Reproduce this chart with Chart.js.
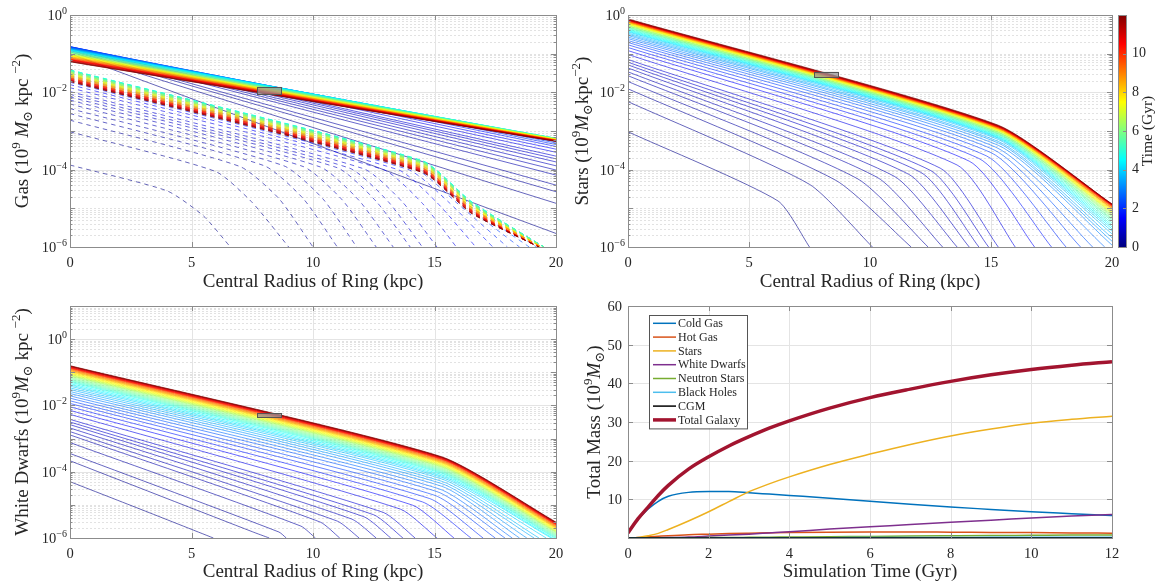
<!DOCTYPE html>
<html lang="en">
<head>
<meta charset="UTF-8">
<title>Ring profiles and total mass</title>
<script src="https://cdn.jsdelivr.net/npm/chart.js@4.4.1/dist/chart.umd.min.js"></script>
<style>
  body { margin: 0; background: #fff; }
  #figure { position: relative; width: 1158px; height: 587px; overflow: hidden; }
  #figure canvas { position: absolute; }
</style>
</head>
<body>
<div id="figure">
  <canvas id="gasChart" width="572" height="290" style="left:0;top:0"></canvas>
  <canvas id="starsChart" width="598" height="290" style="left:560px;top:0"></canvas>
  <canvas id="wdChart" width="572" height="297" style="left:0;top:290px"></canvas>
  <canvas id="massChart" width="598" height="297" style="left:560px;top:290px"></canvas>
</div>
<script>
// one profile per snapshot (Gyr), coloured by time
const timeSteps = [0.1, 0.2, 0.3, 0.4, 0.5, 0.6, 0.7, 0.8, 0.9, 1.0,
  1.25, 1.5, 1.75, 2.0, 2.25, 2.5, 2.75, 3.0, 3.25, 3.5, 3.75, 4.0, 4.25, 4.5, 4.75, 5.0,
  5.25, 5.5, 5.75, 6.0, 6.25, 6.5, 6.75, 7.0, 7.25, 7.5, 7.75, 8.0, 8.25, 8.5, 8.75, 9.0,
  9.25, 9.5, 9.75, 10.0, 10.25, 10.5, 10.75, 11.0, 11.25, 11.5, 11.75, 12.0];
const timeMax = 12;
const colorbarTicks = [0, 2, 4, 6, 8, 10];
const radiusTicks = [0, 5, 10, 15, 20];
const decadeLabels = [0, -2, -4, -6];

// gas, solid lines: log10 surface density at r = 0 and r = 20 kpc
const gasSolidCore = [-1.00, -0.95, -0.92, -0.90, -0.88, -0.87, -0.86, -0.85, -0.84, -0.84,
  -0.83, -0.82, -0.82, -0.82, -0.82, -0.83, -0.84, -0.85, -0.86, -0.87, -0.88, -0.89, -0.90, -0.91, -0.92, -0.94,
  -0.95, -0.96, -0.97, -0.99, -1.00, -1.01, -1.02, -1.03, -1.04, -1.05, -1.06, -1.07, -1.08, -1.09, -1.10, -1.11,
  -1.12, -1.13, -1.14, -1.15, -1.155, -1.16, -1.17, -1.18, -1.19, -1.20, -1.205, -1.21];
const gasSolidEdge = [-5.65, -4.87, -4.57, -4.40, -4.14, -4.01, -3.90, -3.80, -3.72, -3.65,
  -3.55, -3.47, -3.40, -3.35, -3.31, -3.28, -3.26, -3.24, -3.23, -3.22, -3.21, -3.20, -3.20, -3.19, -3.19, -3.19,
  -3.19, -3.19, -3.20, -3.20, -3.20, -3.21, -3.21, -3.21, -3.22, -3.22, -3.22, -3.23, -3.23, -3.23, -3.23, -3.24,
  -3.24, -3.24, -3.24, -3.25, -3.25, -3.25, -3.25, -3.26, -3.26, -3.26, -3.26, -3.27];

// gas, dashed lines: centre, knee, bend, and where each drops out at 1e-6
const gasDashCore = [-3.88, -3.02, -2.72, -2.55, -2.42, -2.30, -2.20, -2.12, -2.05, -1.98,
  -1.88, -1.80, -1.74, -1.68, -1.63, -1.58, -1.55, -1.52, -1.49, -1.47, -1.45, -1.44, -1.43, -1.42, -1.42, -1.42,
  -1.43, -1.44, -1.45, -1.46, -1.47, -1.48, -1.50, -1.51, -1.52, -1.53, -1.55, -1.56, -1.57, -1.58, -1.60, -1.61,
  -1.62, -1.63, -1.64, -1.65, -1.66, -1.67, -1.68, -1.69, -1.70, -1.71, -1.715, -1.72];
const gasDashKneeR = [4.0, 6.0, 7.0, 8.0, 8.8, 9.6, 10.3, 11.0, 11.5, 12.1,
  12.9, 13.5, 13.9, 14.2, 14.3, 14.4, 14.5, 14.5, 14.5, 14.5, 14.5, 14.5, 14.5, 14.5, 14.5, 14.5,
  14.5, 14.5, 14.5, 14.5, 14.5, 14.5, 14.5, 14.5, 14.5, 14.5, 14.5, 14.5, 14.5, 14.5, 14.5, 14.5,
  14.5, 14.5, 14.5, 14.5, 14.5, 14.5, 14.5, 14.5, 14.5, 14.5, 14.5, 14.5];
const gasDashKnee = [-4.55, -4.05, -3.92, -3.90, -3.90, -3.92, -3.93, -3.95, -3.96, -3.98,
  -4.00, -4.00, -3.99, -3.98, -3.95, -3.92, -3.90, -3.87, -3.84, -3.82, -3.80, -3.79, -3.78, -3.77, -3.77, -3.77,
  -3.78, -3.79, -3.80, -3.81, -3.82, -3.83, -3.85, -3.86, -3.87, -3.88, -3.90, -3.91, -3.92, -3.93, -3.95, -3.96,
  -3.97, -3.98, -3.99, -4.00, -4.01, -4.02, -4.03, -4.04, -4.05, -4.06, -4.07, -4.07];
const gasDashBendR = [5.5, 7.5, 8.6, 9.6, 10.4, 11.2, 11.9, 12.6, 13.1, 13.7,
  14.5, 15.1, 15.6, 15.9, 16.1, 16.3, 16.4, 16.5, 16.5, 16.5, 16.5, 16.5, 16.5, 16.5, 16.5, 16.5,
  16.5, 16.5, 16.5, 16.5, 16.5, 16.5, 16.5, 16.5, 16.5, 16.5, 16.5, 16.5, 16.5, 16.5, 16.5, 16.5,
  16.5, 16.5, 16.5, 16.5, 16.5, 16.5, 16.5, 16.5, 16.5, 16.5, 16.5, 16.5];
const gasDashBend = [-5.20, -4.85, -4.75, -4.75, -4.75, -4.78, -4.80, -4.82, -4.83, -4.85,
  -4.87, -4.85, -4.85, -4.85, -4.85, -4.87, -4.85, -4.90, -4.89, -4.87, -4.85, -4.84, -4.83, -4.82, -4.82, -4.82,
  -4.83, -4.84, -4.85, -4.86, -4.87, -4.88, -4.90, -4.91, -4.92, -4.93, -4.95, -4.96, -4.97, -4.98, -5.00, -5.01,
  -5.02, -5.03, -5.04, -5.05, -5.06, -5.07, -5.08, -5.09, -5.10, -5.11, -5.12, -5.12];
const gasDashEndR = [6.6, 9.0, 10.0, 11.0, 11.8, 12.6, 13.3, 14.0, 14.5, 15.1,
  15.9, 16.7, 17.4, 18.0, 18.5, 18.9, 19.2, 19.4, 19.5, 19.5, 19.5, 19.5, 19.5, 19.5, 19.5, 19.5,
  19.5, 19.5, 19.5, 19.5, 19.4, 19.4, 19.4, 19.4, 19.4, 19.4, 19.4, 19.4, 19.4, 19.4, 19.4, 19.4,
  19.3, 19.3, 19.3, 19.3, 19.3, 19.3, 19.3, 19.3, 19.3, 19.3, 19.3, 19.3];

// stars: centre, knee and outer end (log10)
const starsCore = [-3.02, -2.24, -1.91, -1.72, -1.57, -1.47, -1.37, -1.29, -1.22, -1.15,
  -1.02, -0.92, -0.84, -0.77, -0.71, -0.66, -0.61, -0.57, -0.53, -0.50, -0.47, -0.44, -0.42, -0.40, -0.38, -0.36,
  -0.34, -0.32, -0.31, -0.29, -0.28, -0.27, -0.25, -0.24, -0.23, -0.22, -0.21, -0.20, -0.19, -0.185, -0.18, -0.17,
  -0.165, -0.16, -0.15, -0.145, -0.14, -0.135, -0.13, -0.125, -0.12, -0.115, -0.11, -0.10];
const starsKneeR = [6.2, 7.5, 8.6, 9.5, 10.3, 11.0, 11.6, 12.1, 12.5, 12.9,
  13.6, 14.1, 14.5, 14.8, 15.0, 15.1, 15.2, 15.3, 15.3, 15.3, 15.3, 15.3, 15.3, 15.3, 15.3, 15.3,
  15.3, 15.3, 15.3, 15.3, 15.3, 15.3, 15.3, 15.3, 15.3, 15.3, 15.3, 15.3, 15.3, 15.3, 15.3, 15.3,
  15.3, 15.3, 15.3, 15.3, 15.3, 15.3, 15.3, 15.3, 15.3, 15.3, 15.3, 15.3];
const starsKnee = [-4.81, -4.38, -4.28, -4.24, -4.20, -4.17, -4.12, -4.07, -4.02, -3.96,
  -3.88, -3.78, -3.71, -3.64, -3.56, -3.48, -3.42, -3.37, -3.31, -3.27, -3.22, -3.19, -3.17, -3.15, -3.13, -3.11,
  -3.09, -3.07, -3.06, -3.04, -3.03, -3.02, -3.00, -2.99, -2.98, -2.97, -2.96, -2.95, -2.94, -2.94, -2.93, -2.92,
  -2.92, -2.91, -2.90, -2.90, -2.89, -2.89, -2.88, -2.88, -2.87, -2.87, -2.86, -2.85];
const starsEndR = [7.5, 10.1, 11.7, 12.4, 13.0, 13.6, 14.1, 14.5, 14.9, 15.3,
  16.0, 16.8, 17.5, 18.1, 18.7, 19.2, 19.7, 20, 20, 20, 20, 20, 20, 20, 20, 20,
  20, 20, 20, 20, 20, 20, 20, 20, 20, 20, 20, 20, 20, 20, 20, 20,
  20, 20, 20, 20, 20, 20, 20, 20, 20, 20, 20, 20];
const starsEnd = [-6, -6, -6, -6, -6, -6, -6, -6, -6, -6,
  -6, -6, -6, -6, -6, -6, -6, -5.95, -5.85, -5.76, -5.66, -5.59, -5.53, -5.48, -5.43, -5.38,
  -5.33, -5.29, -5.26, -5.22, -5.19, -5.16, -5.13, -5.11, -5.09, -5.07, -5.05, -5.03, -5.01, -5.00, -4.99, -4.97,
  -4.96, -4.95, -4.94, -4.93, -4.92, -4.915, -4.91, -4.905, -4.90, -4.895, -4.89, -4.89];

// white dwarfs: centre, knee and outer end (log10)
const wdCore = [-4.30, -3.67, -3.45, -3.12, -2.89, -2.79, -2.68, -2.58, -2.50, -2.42,
  -2.27, -2.15, -2.04, -1.94, -1.86, -1.78, -1.71, -1.64, -1.58, -1.52, -1.47, -1.42, -1.38, -1.34, -1.30, -1.27,
  -1.24, -1.21, -1.18, -1.15, -1.12, -1.10, -1.08, -1.06, -1.04, -1.02, -1.00, -0.98, -0.965, -0.95, -0.935, -0.92,
  -0.905, -0.89, -0.88, -0.87, -0.86, -0.85, -0.84, -0.83, -0.82, -0.815, -0.81, -0.80];
const wdKneeR = [3.0, 7.5, 8.6, 9.5, 10.3, 11.0, 11.6, 12.1, 12.5, 12.9,
  13.6, 14.1, 14.5, 14.8, 15.0, 15.1, 15.2, 15.3, 15.3, 15.3, 15.3, 15.3, 15.3, 15.3, 15.3, 15.3,
  15.3, 15.3, 15.3, 15.3, 15.3, 15.3, 15.3, 15.3, 15.3, 15.3, 15.3, 15.3, 15.3, 15.3, 15.3, 15.3,
  15.3, 15.3, 15.3, 15.3, 15.3, 15.3, 15.3, 15.3, 15.3, 15.3, 15.3, 15.3];
const wdKnee = [-5.16, -5.81, -5.82, -5.64, -5.52, -5.49, -5.43, -5.36, -5.30, -5.23,
  -5.13, -5.01, -4.91, -4.81, -4.71, -4.60, -4.52, -4.44, -4.36, -4.29, -4.22, -4.17, -4.13, -4.09, -4.05, -4.02,
  -3.99, -3.96, -3.93, -3.90, -3.87, -3.85, -3.83, -3.81, -3.79, -3.77, -3.75, -3.73, -3.72, -3.70, -3.69, -3.67,
  -3.66, -3.64, -3.63, -3.62, -3.61, -3.60, -3.59, -3.58, -3.57, -3.57, -3.56, -3.55];
const wdEndR = [5.9, 8.2, 8.9, 10.1, 11.1, 11.9, 12.6, 13.2, 13.7, 14.2,
  15.1, 15.8, 16.5, 17.0, 17.5, 17.9, 18.2, 18.5, 18.8, 19.1, 19.3, 19.6, 19.8, 20, 20, 20,
  20, 20, 20, 20, 20, 20, 20, 20, 20, 20, 20, 20, 20, 20, 20, 20,
  20, 20, 20, 20, 20, 20, 20, 20, 20, 20, 20, 20];
const wdEnd = [-6, -6, -6, -6, -6, -6, -6, -6, -6, -6,
  -6, -6, -6, -6, -6, -6, -6, -6, -6, -6, -6, -6, -6, -6.06, -6.02, -5.99,
  -5.96, -5.93, -5.90, -5.87, -5.84, -5.82, -5.80, -5.78, -5.76, -5.74, -5.72, -5.70, -5.69, -5.67, -5.66, -5.64,
  -5.63, -5.61, -5.60, -5.59, -5.58, -5.57, -5.56, -5.55, -5.54, -5.54, -5.53, -5.52];

// solar-neighbourhood markers: radius span and log10 span
const sunBoxR = [7.7, 8.7];
const gasSunBox = [-2.04, -1.86];
const starsSunBox = [-1.61, -1.47];
const wdSunBox = [-2.355, -2.235];

// total mass panel (10^9 Msun)
const simTime = [0, 0.25, 0.5, 0.75, 1, 1.5, 2, 2.5, 3, 3.5, 4, 5, 6, 7, 8, 9, 10, 11, 12];
const coldGas = [1.3, 4.8, 7.5, 9.5, 10.8, 11.8, 12.0, 12.0, 11.7, 11.35, 11.0, 10.3, 9.5, 8.7, 8.0, 7.4, 6.8, 6.3, 5.8];
const hotGas = [0, 0.1, 0.3, 0.45, 0.6, 0.85, 1.0, 1.15, 1.25, 1.33, 1.4, 1.5, 1.55, 1.55, 1.5, 1.45, 1.4, 1.3, 1.25];
const starMass = [0, 0.15, 0.6, 1.2, 2.2, 4.4, 6.8, 9.4, 12.0, 14.0, 15.8, 19.0, 21.7, 24.2, 26.4, 28.2, 29.7, 30.7, 31.5];
const whiteDwarfs = [0, 0, 0.02, 0.05, 0.1, 0.25, 0.5, 0.75, 1.0, 1.3, 1.6, 2.3, 2.9, 3.5, 4.1, 4.6, 5.2, 5.7, 6.1];
const neutronStars = [0, 0, 0.01, 0.02, 0.03, 0.06, 0.1, 0.13, 0.17, 0.21, 0.25, 0.33, 0.42, 0.5, 0.57, 0.64, 0.7, 0.76, 0.8];
const blackHoles = [0, 0, 0, 0.01, 0.01, 0.02, 0.03, 0.04, 0.05, 0.06, 0.07, 0.09, 0.11, 0.13, 0.15, 0.17, 0.19, 0.2, 0.22];
const cgm = [0, 0, 0, 0, 0, 0, 0, 0, 0, 0, 0, 0, 0, 0, 0, 0, 0, 0, 0];
const totalGalaxy = [1.3, 5.0, 8.0, 11.0, 13.6, 17.8, 21.0, 23.8, 26.2, 28.4, 30.3, 33.6, 36.3, 38.5, 40.5, 42.2, 43.6, 44.7, 45.6];
const massNames = ['Cold Gas', 'Hot Gas', 'Stars', 'White Dwarfs', 'Neutron Stars', 'Black Holes', 'CGM', 'Total Galaxy'];
const timeTicks = [0, 2, 4, 6, 8, 10, 12];
const massTicks = [10, 20, 30, 40, 50, 60];

const SERIF = '"Liberation Serif", "DejaVu Serif", serif';
const INK = '#262626';

function jet(v, alpha) {
  const c = k => Math.round(255 * Math.max(0, Math.min(1, 1.5 - Math.abs(4 * v - k))));
  return `rgba(${c(3)},${c(2)},${c(1)},${alpha === undefined ? 1 : alpha})`;
}

// anchors: [radius (number or per-line array), log10 value (number or per-line array)]
function profileSets(anchors, dash, tension) {
  const sets = [];
  for (let i = timeSteps.length - 1; i >= 0; i--) {
    sets.push({
      data: anchors.map(([r, v]) => ({
        x: Array.isArray(r) ? r[i] : r,
        y: Math.pow(10, Array.isArray(v) ? v[i] : v)
      })),
      borderColor: jet(timeSteps[i] / timeMax, 0.8),
      borderWidth: 0.75,
      borderDash: dash,
      tension: tension,
      pointRadius: 0,
      fill: false
    });
  }
  return sets;
}

function drawRich(ctx, parts, x, y, size, rotate, align) {
  const fontFor = k => (k === 'it' ? 'italic ' : '') + (k === 'sup' || k === 'sub' ? Math.round(size * 0.7) : size) + 'px ' + SERIF;
  ctx.save();
  ctx.translate(x, y);
  if (rotate) ctx.rotate(-Math.PI / 2);
  ctx.fillStyle = INK;
  ctx.textAlign = 'left';
  ctx.textBaseline = 'alphabetic';
  let w = 0;
  for (const [t, k] of parts) { ctx.font = fontFor(k); w += ctx.measureText(t).width; }
  let cx = align === 'right' ? -w : align === 'left' ? 0 : -w / 2;
  for (const [t, k] of parts) {
    ctx.font = fontFor(k);
    const dy = k === 'sup' ? -size * 0.42 : k === 'sub' ? size * 0.22 : 0;
    ctx.fillText(t, cx, dy);
    cx += ctx.measureText(t).width;
  }
  ctx.restore();
}

function hline(ctx, x0, x1, y) { ctx.beginPath(); ctx.moveTo(x0, y); ctx.lineTo(x1, y); ctx.stroke(); }
function vline(ctx, x, y0, y1) { ctx.beginPath(); ctx.moveTo(x, y0); ctx.lineTo(x, y1); ctx.stroke(); }

function drawGrid(chart, cfg) {
  const { ctx, chartArea: a, scales: { x, y } } = chart;
  ctx.save();
  ctx.lineWidth = 1;
  if (cfg.log) {
    ctx.strokeStyle = '#e2e2e2';
    ctx.setLineDash([2, 2]);
    for (let e = cfg.log[0]; e < cfg.log[1]; e++) {
      for (let k = 1; k < 10; k++) {
        if (k === 1 && e % 2 === 0) continue;
        hline(ctx, a.left, a.right, Math.round(y.getPixelForValue(k * Math.pow(10, e))) + 0.5);
      }
    }
    ctx.setLineDash([]);
    ctx.strokeStyle = '#e4e4e4';
    for (let e = cfg.log[0]; e <= cfg.log[1]; e++) {
      if (e % 2 === 0) hline(ctx, a.left, a.right, Math.round(y.getPixelForValue(Math.pow(10, e))) + 0.5);
    }
  } else {
    ctx.strokeStyle = '#e4e4e4';
    for (const v of cfg.yTicks) hline(ctx, a.left, a.right, Math.round(y.getPixelForValue(v)) + 0.5);
  }
  ctx.strokeStyle = '#e4e4e4';
  for (const v of cfg.xTicks) vline(ctx, Math.round(x.getPixelForValue(v)) + 0.5, a.top, a.bottom);
  ctx.restore();
}

function drawFrame(chart, cfg) {
  const { ctx, chartArea: a, scales: { x, y } } = chart;
  ctx.save();
  // solar-neighbourhood box
  if (cfg.box) {
    const x0 = x.getPixelForValue(sunBoxR[0]), x1 = x.getPixelForValue(sunBoxR[1]);
    const y0 = y.getPixelForValue(Math.pow(10, cfg.box[1])), y1 = y.getPixelForValue(Math.pow(10, cfg.box[0]));
    ctx.fillStyle = 'rgba(150,150,150,0.75)';
    ctx.fillRect(x0, y0, x1 - x0, y1 - y0);
    ctx.strokeStyle = '#555';
    ctx.lineWidth = 1;
    ctx.strokeRect(Math.round(x0) + 0.5, Math.round(y0) + 0.5, Math.round(x1 - x0), Math.round(y1 - y0));
  }
  // axes box and inward ticks
  ctx.strokeStyle = '#8c8c8c';
  ctx.lineWidth = 1;
  ctx.beginPath();
  for (const v of cfg.xTicks) {
    const px = Math.round(x.getPixelForValue(v)) + 0.5;
    ctx.moveTo(px, a.bottom); ctx.lineTo(px, a.bottom - 5);
    ctx.moveTo(px, a.top); ctx.lineTo(px, a.top + 5);
  }
  const yMarks = [];
  if (cfg.log) {
    for (let e = cfg.log[0]; e < cfg.log[1]; e++) for (let k = 1; k < 10; k++) yMarks.push([k * Math.pow(10, e), k === 1 ? 5 : 2.5]);
  } else {
    for (const v of cfg.yTicks) yMarks.push([v, 5]);
  }
  for (const [v, len] of yMarks) {
    const py = Math.round(y.getPixelForValue(v)) + 0.5;
    ctx.moveTo(a.left, py); ctx.lineTo(a.left + len, py);
    ctx.moveTo(a.right, py); ctx.lineTo(a.right - len, py);
  }
  ctx.stroke();
  ctx.strokeRect(Math.round(a.left) + 0.5, Math.round(a.top) + 0.5, Math.round(a.right - a.left), Math.round(a.bottom - a.top));

  // tick labels
  ctx.fillStyle = INK;
  ctx.font = '14.5px ' + SERIF;
  ctx.textAlign = 'center';
  ctx.textBaseline = 'alphabetic';
  for (const v of cfg.xTicks) ctx.fillText(String(v), x.getPixelForValue(v), a.bottom + 20);
  if (cfg.log) {
    for (const e of decadeLabels) {
      const py = y.getPixelForValue(Math.pow(10, e));
      drawRich(ctx, [['10', ''], [e === 0 ? '0' : '\u2212' + (-e), 'sup']], a.left - 3, py + 5, 14.5, false, 'right');
    }
  } else {
    ctx.textAlign = 'right';
    for (const v of cfg.yLabels) ctx.fillText(String(v), a.left - 6, y.getPixelForValue(v) + 5);
  }
  // axis titles
  ctx.font = '19px ' + SERIF;
  ctx.textAlign = 'center';
  ctx.fillText(cfg.xTitle, (a.left + a.right) / 2, cfg.xTitleY);
  drawRich(ctx, cfg.yTitle, cfg.yTitleX, (a.top + a.bottom) / 2, 19, true, 'center');
  ctx.restore();
}

function framePlugin(cfg) {
  return {
    id: 'frame',
    beforeDatasetsDraw(chart) { drawGrid(chart, cfg); },
    afterDatasetsDraw(chart) {
      drawFrame(chart, cfg);
      if (cfg.extra) cfg.extra(chart);
    }
  };
}

function drawColorbar(chart) {
  const { ctx, chartArea: a } = chart;
  const x0 = 558, w = 8, h = a.bottom - a.top;
  ctx.save();
  for (let py = Math.floor(a.top); py < a.bottom; py++) {
    ctx.fillStyle = jet((a.bottom - py - 0.5) / h);
    ctx.fillRect(x0, py, w, 1);
  }
  ctx.strokeStyle = '#8c8c8c';
  ctx.lineWidth = 1;
  ctx.strokeRect(x0 + 0.5, Math.round(a.top) + 0.5, w, Math.round(h));
  ctx.fillStyle = INK;
  ctx.font = '14px ' + SERIF;
  ctx.textAlign = 'left';
  ctx.textBaseline = 'middle';
  ctx.beginPath();
  for (const t of colorbarTicks) {
    const py = a.bottom - t / timeMax * h;
    ctx.fillText(String(t), x0 + w + 6, py);
    ctx.moveTo(x0 + w, Math.round(py) + 0.5); ctx.lineTo(x0 + w - 3, Math.round(py) + 0.5);
  }
  ctx.stroke();
  ctx.textBaseline = 'alphabetic';
  drawRich(ctx, [['Time (Gyr)', '']], 592, (a.top + a.bottom) / 2, 15.5, true, 'center');
  ctx.restore();
}

function drawMassLegend(chart) {
  const { ctx } = chart;
  const sets = chart.data.datasets;
  const left = 89, top = 25, width = 98, row = 13.8;
  ctx.save();
  ctx.fillStyle = '#fff';
  ctx.fillRect(left, top, width, row * sets.length + 3);
  ctx.strokeStyle = '#555';
  ctx.lineWidth = 1;
  ctx.strokeRect(left + 0.5, top + 0.5, width, row * sets.length + 3);
  ctx.font = '12px ' + SERIF;
  ctx.textAlign = 'left';
  ctx.textBaseline = 'middle';
  sets.forEach((s, i) => {
    const py = top + 8.3 + i * row;
    ctx.strokeStyle = s.borderColor;
    ctx.lineWidth = s.borderWidth;
    hline(ctx, left + 4, left + 27, py);
    ctx.fillStyle = INK;
    ctx.fillText(s.label, left + 29, py + 0.5);
  });
  ctx.restore();
}

function profileOptions(pad, yMax) {
  return {
    responsive: false,
    animation: false,
    events: [],
    layout: { padding: pad },
    plugins: { legend: { display: false }, tooltip: { enabled: false } },
    scales: {
      x: { type: 'linear', display: false, min: 0, max: 20 },
      y: { type: 'logarithmic', display: false, min: 1e-6, max: yMax }
    }
  };
}

// gas panel: solid and dashed families, newest drawn on top
const gasSolid = profileSets([[0, gasSolidCore], [20, gasSolidEdge]], [], 0);
const gasDashed = profileSets([[0, gasDashCore], [gasDashKneeR, gasDashKnee], [gasDashBendR, gasDashBend], [gasDashEndR, -6]], [4.5, 4], 0.2);
const gasSets = [];
gasSolid.forEach((s, i) => { gasSets.push(gasDashed[i], s); });

new Chart(document.getElementById('gasChart'), {
  type: 'line',
  data: { datasets: gasSets },
  options: profileOptions({ left: 70, right: 16, top: 15, bottom: 43 }, 1),
  plugins: [framePlugin({
    log: [-6, 0], xTicks: radiusTicks, box: gasSunBox,
    xTitle: 'Central Radius of Ring (kpc)', xTitleY: 287, yTitleX: 28,
    yTitle: [['Gas (10', ''], ['9', 'sup'], [' ', ''], ['M', 'it'], ['\u2299', 'sub'], [' kpc ', ''], ['\u22122', 'sup'], [')', '']]
  })]
});

new Chart(document.getElementById('starsChart'), {
  type: 'line',
  data: { datasets: profileSets([[0, starsCore], [starsKneeR, starsKnee], [starsEndR, starsEnd]], [], 0.2) },
  options: profileOptions({ left: 68, right: 46, top: 15, bottom: 43 }, 1),
  plugins: [framePlugin({
    log: [-6, 0], xTicks: radiusTicks, box: starsSunBox,
    xTitle: 'Central Radius of Ring (kpc)', xTitleY: 287, yTitleX: 28,
    yTitle: [['Stars (10', ''], ['9', 'sup'], ['M', 'it'], ['\u2299', 'sub'], ['kpc', ''], ['\u22122', 'sup'], [')', '']],
    extra: drawColorbar
  })]
});

new Chart(document.getElementById('wdChart'), {
  type: 'line',
  data: { datasets: profileSets([[0, wdCore], [wdKneeR, wdKnee], [wdEndR, wdEnd]], [], 0.2) },
  options: profileOptions({ left: 70, right: 16, top: 16, bottom: 49 }, 10),
  plugins: [framePlugin({
    log: [-6, 1], xTicks: radiusTicks, box: wdSunBox,
    xTitle: 'Central Radius of Ring (kpc)', xTitleY: 287, yTitleX: 28,
    yTitle: [['White Dwarfs (10', ''], ['9', 'sup'], ['M', 'it'], ['\u2299', 'sub'], [' kpc ', ''], ['\u22122', 'sup'], [')', '']]
  })]
});

// total mass panel
const massSeries = [coldGas, hotGas, starMass, whiteDwarfs, neutronStars, blackHoles, cgm, totalGalaxy];
const massColors = ['#0072BD', '#D95319', '#EDB120', '#7E2F8E', '#77AC30', '#4DBEEE', '#000000', '#A2142F'];
const massSets = massSeries.map((vals, i) => ({
  label: massNames[i],
  data: vals.map((v, j) => ({ x: simTime[j], y: v })),
  borderColor: massColors[i],
  borderWidth: i === massSeries.length - 1 ? 3.5 : 1.5,
  pointRadius: 0,
  fill: false,
  cubicInterpolationMode: 'monotone',
  order: massSeries.length - 1 - i
}));

new Chart(document.getElementById('massChart'), {
  type: 'line',
  data: { datasets: massSets },
  options: {
    responsive: false,
    animation: false,
    events: [],
    layout: { padding: { left: 68, right: 46, top: 16, bottom: 49 } },
    plugins: { legend: { display: false }, tooltip: { enabled: false } },
    scales: {
      x: { type: 'linear', display: false, min: 0, max: 12 },
      y: { type: 'linear', display: false, min: 0, max: 60 }
    }
  },
  plugins: [framePlugin({
    xTicks: timeTicks, yTicks: [0].concat(massTicks), yLabels: massTicks,
    xTitle: 'Simulation Time (Gyr)', xTitleY: 287, yTitleX: 40,
    yTitle: [['Total Mass (10', ''], ['9', 'sup'], ['M', 'it'], ['\u2299', 'sub'], [')', '']],
    extra: drawMassLegend
  })]
});
</script>
</body>
</html>
